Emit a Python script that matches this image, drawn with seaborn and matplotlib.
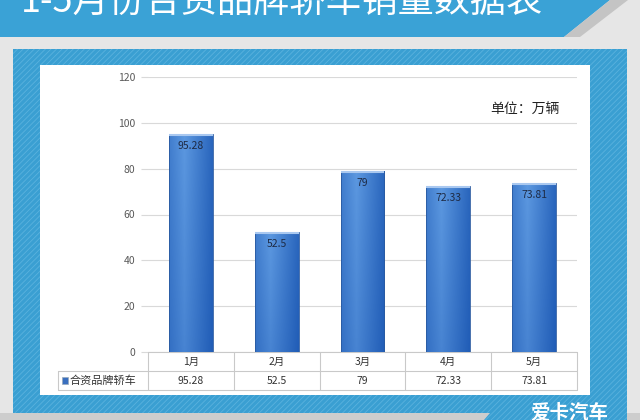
import matplotlib.pyplot as plt
import matplotlib.transforms as mtransforms
from matplotlib.patches import Rectangle, Polygon
from matplotlib.lines import Line2D
import numpy as np
import pandas as pd
import seaborn as sns

# data
months = ['1月', '2月', '3月', '4月', '5月']
sales = [95.28, 52.5, 79, 72.33, 73.81]
value_labels = ['95.28', '52.5', '79', '72.33', '73.81']
series_name = '合资品牌轿车'
title = '1-5月份合资品牌轿车销量数据表'
unit = '单位：万辆'

sns.set_style('white')
plt.rcParams['font.family'] = ['Noto Sans CJK SC', 'DejaVu Sans']

W, H = 640, 420
fig = plt.figure(figsize=(6.4, 4.2), dpi=100)
fig.patch.set_facecolor('#e6e6e6')


def fx(x):
    return x / W


def fy(y):
    return 1 - y / H


def pbox(x0, y0, x1, y1, **kw):
    return Rectangle((fx(x0), fy(y1)), fx(x1) - fx(x0), fy(y0) - fy(y1),
                     transform=fig.transFigure, zorder=-5, **kw)


def ppoly(pts, **kw):
    return Polygon([(fx(a), fy(b)) for a, b in pts], closed=True,
                   transform=fig.transFigure, zorder=-5, **kw)


# title band with slanted end
fig.patches.append(ppoly([(0, 0), (610, 0), (564, 37), (0, 37)], facecolor='#3aa2d6', edgecolor='none'))
fig.patches.append(ppoly([(610, 0), (628, 0), (580, 37), (564, 37)], facecolor='#c4c4c4', edgecolor='none'))
fig.text(fx(21), fy(20), title, color='white', fontsize=26, ha='left', va='bottom')

# blue hatched panel and white chart area
plt.rcParams['hatch.linewidth'] = 0.6
fig.patches.append(pbox(0, 413, 640, 420, facecolor='#cdcdcd', edgecolor='none'))
fig.patches.append(pbox(13, 49, 627, 413, facecolor='#3a9fd2', edgecolor='#5ab2de', hatch='//////', lw=0))
fig.patches.append(ppoly([(490, 413), (627, 413), (627, 420), (484, 420)],
                         facecolor='#3a9fd2', edgecolor='#5ab2de', hatch='//////', lw=0))
fig.patches.append(pbox(40, 65, 590, 395, facecolor='white', edgecolor='none'))

# logo
fig.text(fx(530), fy(423), '爱卡汽车', color='white', fontsize=14, fontweight='bold',
         ha='left', va='bottom')

ax = fig.add_axes([fx(148), fy(352), fx(577) - fx(148), fy(77) - fy(352)])
ax.set_facecolor('none')

df = pd.DataFrame({'month': months, 'sales': sales})
sns.barplot(data=df, x='month', y='sales', color='#3673c4', width=0.51, ax=ax, zorder=3)

# gradient fill for the bars
xs = np.linspace(0, 1, 64)
horiz = 1 - 0.55 * np.abs(xs - 0.35) / 0.65
for i, p in enumerate(ax.patches):
    x0, w, h = p.get_x(), p.get_width(), p.get_height()
    ys = np.linspace(0, 1, 64)[:, None]
    shade = horiz[None, :] * (0.78 + 0.22 * (1 - ys))
    base = np.array([0x2a, 0x66, 0xbd]) / 255.0
    light = np.array([0x5c, 0x98, 0xe0]) / 255.0
    rgb = base[None, None, :] + (light - base)[None, None, :] * (shade[..., None] - 0.45) / 0.55
    rgb = np.clip(rgb, 0, 1)
    im = ax.imshow(rgb, extent=[x0, x0 + w, 0, h], aspect='auto', origin='upper', zorder=3.5)
    im.set_clip_path(p)
    p.set_facecolor('none')
    p.set_edgecolor('#2a5aa0')
    p.set_linewidth(0.6)
    p.set_zorder(4)
    # light cap on top
    ax.plot([x0, x0 + w], [h - 0.4, h - 0.4], color='#a9c8f0', lw=1.5, zorder=4.5,
            solid_capstyle='butt')
    ax.text(i, sales[i] - 3, value_labels[i], ha='center', va='top', fontsize=7.5,
            color='#1e2b45', zorder=5)

ax.set_xlim(-0.5, 4.5)
ax.set_ylim(0, 120)
ax.set_yticks(range(0, 121, 20))
ax.yaxis.grid(True, color='#d9d9d9', lw=0.8, zorder=0)
ax.tick_params(axis='y', length=5, color='#d9d9d9', labelsize=7.5, labelcolor='#595959', pad=4, left=True)
ax.tick_params(axis='x', bottom=False, labelbottom=False)
ax.set_xlabel('')
ax.set_ylabel('')
for s in ax.spines.values():
    s.set_visible(False)

ax.text(1.0 - 0.04, 0.88, unit, transform=ax.transAxes, ha='right', va='center',
        fontsize=10, color='#222222')

# data table below the chart
tr = mtransforms.blended_transform_factory(ax.transData, ax.transAxes)
row_h = 19 / 275
line_kw = dict(color='#c9c9c9', lw=0.8, transform=tr, clip_on=False)
left_x = -0.5 - 90 / 85.8
ax.add_line(Line2D([-0.5, 4.5], [0, 0], **line_kw))
ax.add_line(Line2D([left_x, 4.5], [-row_h, -row_h], **line_kw))
ax.add_line(Line2D([left_x, 4.5], [-2 * row_h, -2 * row_h], **line_kw))
ax.add_line(Line2D([left_x, left_x], [-row_h, -2 * row_h], **line_kw))
for b in np.arange(-0.5, 5, 1.0):
    ax.add_line(Line2D([b, b], [0, -2 * row_h], **line_kw))
for i, m in enumerate(months):
    ax.text(i, -0.5 * row_h, m, transform=tr, ha='center', va='center', fontsize=7.5, color='#333333')
    ax.text(i, -1.5 * row_h, value_labels[i], transform=tr, ha='center', va='center', fontsize=7.5,
            color='#333333')
ax.add_patch(Rectangle((left_x + 0.05, -1.5 * row_h - 0.011), 0.07, 0.022, transform=tr,
                       facecolor='#3a6fbf', edgecolor='#9ab', lw=0.5, clip_on=False))
ax.text(left_x + 0.14, -1.5 * row_h, series_name, transform=tr, ha='left', va='center',
        fontsize=8, color='#333333')

plt.savefig('out.png', dpi=100, facecolor=fig.get_facecolor())
